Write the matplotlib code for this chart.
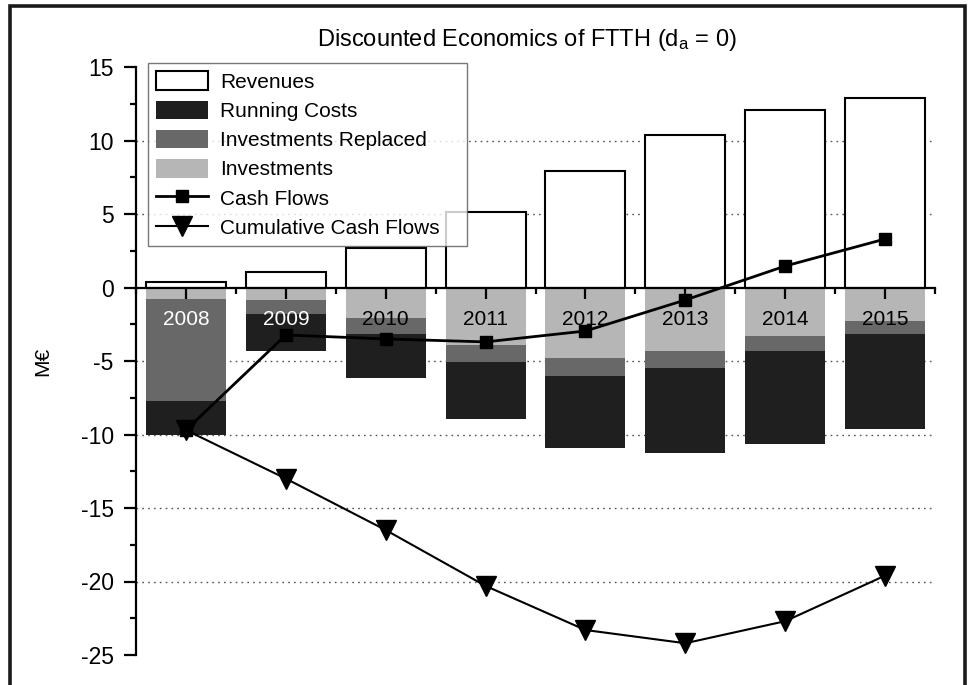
import matplotlib
matplotlib.use("Agg")
import matplotlib.pyplot as plt
from matplotlib.patches import Rectangle
import numpy as np

years = ["2008", "2009", "2010", "2011", "2012", "2013", "2014", "2015"]
revenues = [0.35, 1.05, 2.7, 5.15, 7.95, 10.4, 12.05, 12.9]
investments = [0.75, 0.85, 2.1, 3.9, 4.77, 4.32, 3.32, 2.28]
investments_replaced = [6.95, 0.97, 1.06, 1.14, 1.23, 1.13, 0.98, 0.86]
running_costs = [2.3, 2.48, 2.97, 3.9, 4.9, 5.81, 6.32, 6.51]
cash_flows = [-9.7, -3.23, -3.5, -3.7, -2.96, -0.85, 1.46, 3.3]
cumulative_cash_flows = [-9.7, -13.0, -16.5, -20.3, -23.3, -24.2, -22.7, -19.6]
grid_levels = [10, 5, -5, -10, -15, -20]

plt.rcParams['font.family'] = ['Liberation Sans', 'DejaVu Sans']
plt.rcParams['mathtext.default'] = 'regular'
plt.rcParams['axes.unicode_minus'] = False
FS = 15

fig = plt.figure(figsize=(9.71, 6.85), dpi=100)
ax = fig.add_axes([136/971, 1-655/685, (935-136)/971, (655-67)/685])
ax.set_axisbelow(False)

x = np.arange(len(years))
inv = -np.array(investments)
rep = -np.array(investments_replaced)
run = -np.array(running_costs)

for g in grid_levels:
    ax.axhline(g, color='#555555', lw=1.0, ls=(0, (1.2, 3)), zorder=0.5)

w = 0.8
h_rev = ax.bar(x, revenues, w, color='white', edgecolor='black', lw=1.5, label='Revenues', zorder=1.5)
h_run = ax.bar(x, run, w, bottom=inv + rep, color='#1f1f1f', lw=0, label='Running Costs', zorder=1.5)
h_rep = ax.bar(x, rep, w, bottom=inv, color='#686868', lw=0, label='Investments Replaced', zorder=1.5)
h_inv = ax.bar(x, inv, w, color='#b6b6b6', lw=0, label='Investments', zorder=1.5)

h_cf, = ax.plot(x, cash_flows, color='black', lw=2, marker='s', ms=9, label='Cash Flows', zorder=4)
h_ccf, = ax.plot(x, cumulative_cash_flows, color='black', lw=1.5, marker='v', ms=14,
                 label='Cumulative Cash Flows', zorder=4)

ax.set_xlim(-0.5, 7.5)
ax.set_ylim(-25, 15)
ax.spines['top'].set_visible(False)
ax.spines['right'].set_visible(False)
ax.spines['bottom'].set_position(('data', 0))
for s in ['left', 'bottom']:
    ax.spines[s].set_linewidth(1.6)

ax.set_yticks(np.arange(-25, 16, 5))
ax.set_yticks(np.arange(-25, 16, 2.5), minor=True)
ax.set_xticks(x)
ax.set_xticklabels(years)
ax.set_xticks(np.arange(-0.5, 7.6, 1), minor=True)
ax.tick_params(axis='y', which='major', length=8.6, width=1.6, labelsize=16.5, pad=7.5)
ax.tick_params(axis='y', which='minor', length=4, width=1.6)
ax.tick_params(axis='x', which='major', length=8, width=1.6, labelsize=FS, pad=8.5)
ax.tick_params(axis='x', which='minor', length=4.5, width=1.6)
for lab, col in zip(ax.get_xticklabels(), ['white', 'white'] + ['black'] * 6):
    lab.set_color(col)

ax.set_ylabel('M€', fontsize=FS, labelpad=20)

fig.text(527/971, 1-40/685, 'Discounted Economics of FTTH (d$_a$ = 0)', fontsize=17,
         ha='center', va='center')

leg = ax.legend([h_rev, h_run, h_rep, h_inv, h_cf, h_ccf],
                ['Revenues', 'Running Costs', 'Investments Replaced', 'Investments',
                 'Cash Flows', 'Cumulative Cash Flows'],
                loc='upper left', bbox_to_anchor=(12/799, 1+4/588, 319/799, 0.0), mode='expand',
                fontsize=FS, frameon=True, fancybox=False, borderpad=0.4, labelspacing=0.42,
                handlelength=2.5, handleheight=1.0, handletextpad=0.55, borderaxespad=0)
leg.get_frame().set_edgecolor('#555555')
leg.get_frame().set_linewidth(1.0)
leg.set_zorder(6)

fig.patches.append(Rectangle((10/971, -0.1), 955/971, 1.1 - 6/685, transform=fig.transFigure,
                             fill=False, edgecolor='#1a1a1a', lw=2.6, clip_on=False))

fig.savefig('out.png', dpi=100)
